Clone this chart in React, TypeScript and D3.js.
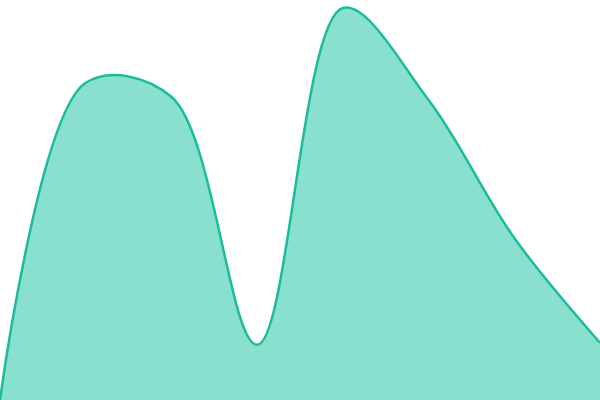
import React from 'react';
import * as d3 from 'd3';

// eight evenly spaced samples
const steps = [0, 1, 2, 3, 4, 5, 6, 7];
const values = [0, 79.3, 75.8, 13.8, 98, 75, 40.5, 14.3];

const width = 600;
const height = 400;

const App: React.FC = () => {
  const xScale = d3.scaleLinear().domain([0, steps.length - 1]).range([0, width]);
  const yScale = d3.scaleLinear().domain([0, 100]).range([height, 0]);

  const area = d3
    .area<number>()
    .x((_, i) => xScale(steps[i]))
    .y0(height)
    .y1((d) => yScale(d))
    .curve(d3.curveCatmullRom);

  const line = d3
    .line<number>()
    .x((_, i) => xScale(steps[i]))
    .y((d) => yScale(d))
    .curve(d3.curveCatmullRom);

  return (
    <svg
      width={width}
      height={height}
      style={{ position: 'absolute', top: 0, left: 0, background: '#fff' }}
    >
      <path d={area(values) || ''} fill="#89e0cf" />
      <path d={line(values) || ''} fill="none" stroke="#1abc9c" strokeWidth={2.5} />
    </svg>
  );
};

export default App;
